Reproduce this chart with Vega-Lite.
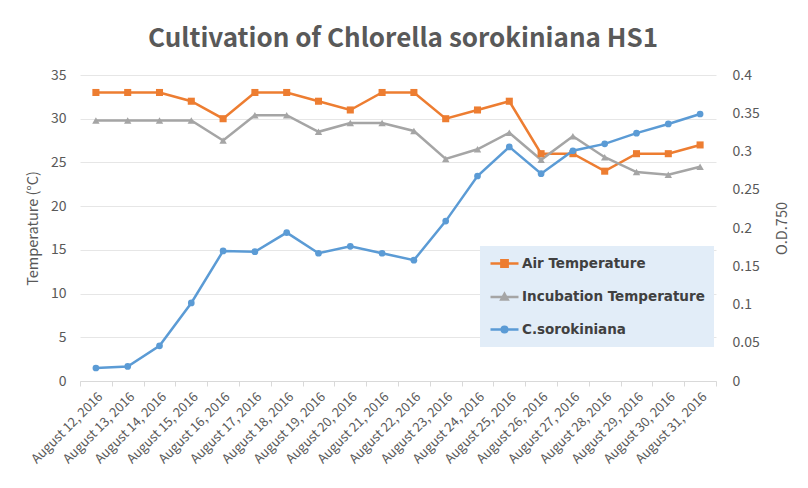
{
  "$schema": "https://vega.github.io/schema/vega-lite/v6.json",
  "width": 636,
  "height": 306,
  "autosize": {"type": "none"},
  "padding": {"left": 80, "top": 75, "right": 92, "bottom": 107},
  "background": "white",
  "config": {
    "view": {"stroke": null},
    "axis": {"labelFont": "Noto Sans CJK KR", "titleFont": "Noto Sans CJK KR", "labelColor": "#595959", "titleColor": "#595959", "titleFontWeight": "normal"}
  },
  "title": {
    "text": "Cultivation of Chlorella sorokiniana HS1",
    "font": "Noto Sans CJK KR",
    "fontSize": 26,
    "fontWeight": "bold",
    "color": "#595959",
    "anchor": "middle",
    "dx": 5,
    "offset": 16
  },
  "data": {
    "values": [
      {"date": "August 12, 2016", "series": "Air Temperature", "value": 33},
      {"date": "August 13, 2016", "series": "Air Temperature", "value": 33},
      {"date": "August 14, 2016", "series": "Air Temperature", "value": 33},
      {"date": "August 15, 2016", "series": "Air Temperature", "value": 32},
      {"date": "August 16, 2016", "series": "Air Temperature", "value": 30},
      {"date": "August 17, 2016", "series": "Air Temperature", "value": 33},
      {"date": "August 18, 2016", "series": "Air Temperature", "value": 33},
      {"date": "August 19, 2016", "series": "Air Temperature", "value": 32},
      {"date": "August 20, 2016", "series": "Air Temperature", "value": 31},
      {"date": "August 21, 2016", "series": "Air Temperature", "value": 33},
      {"date": "August 22, 2016", "series": "Air Temperature", "value": 33},
      {"date": "August 23, 2016", "series": "Air Temperature", "value": 30},
      {"date": "August 24, 2016", "series": "Air Temperature", "value": 31},
      {"date": "August 25, 2016", "series": "Air Temperature", "value": 32},
      {"date": "August 26, 2016", "series": "Air Temperature", "value": 26},
      {"date": "August 27, 2016", "series": "Air Temperature", "value": 26},
      {"date": "August 28, 2016", "series": "Air Temperature", "value": 24},
      {"date": "August 29, 2016", "series": "Air Temperature", "value": 26},
      {"date": "August 30, 2016", "series": "Air Temperature", "value": 26},
      {"date": "August 31, 2016", "series": "Air Temperature", "value": 27},
      {"date": "August 12, 2016", "series": "Incubation Temperature", "value": 29.8},
      {"date": "August 13, 2016", "series": "Incubation Temperature", "value": 29.8},
      {"date": "August 14, 2016", "series": "Incubation Temperature", "value": 29.8},
      {"date": "August 15, 2016", "series": "Incubation Temperature", "value": 29.8},
      {"date": "August 16, 2016", "series": "Incubation Temperature", "value": 27.5},
      {"date": "August 17, 2016", "series": "Incubation Temperature", "value": 30.4},
      {"date": "August 18, 2016", "series": "Incubation Temperature", "value": 30.4},
      {"date": "August 19, 2016", "series": "Incubation Temperature", "value": 28.5},
      {"date": "August 20, 2016", "series": "Incubation Temperature", "value": 29.5},
      {"date": "August 21, 2016", "series": "Incubation Temperature", "value": 29.5},
      {"date": "August 22, 2016", "series": "Incubation Temperature", "value": 28.6},
      {"date": "August 23, 2016", "series": "Incubation Temperature", "value": 25.4},
      {"date": "August 24, 2016", "series": "Incubation Temperature", "value": 26.5},
      {"date": "August 25, 2016", "series": "Incubation Temperature", "value": 28.4},
      {"date": "August 26, 2016", "series": "Incubation Temperature", "value": 25.3},
      {"date": "August 27, 2016", "series": "Incubation Temperature", "value": 28},
      {"date": "August 28, 2016", "series": "Incubation Temperature", "value": 25.6},
      {"date": "August 29, 2016", "series": "Incubation Temperature", "value": 23.9},
      {"date": "August 30, 2016", "series": "Incubation Temperature", "value": 23.6},
      {"date": "August 31, 2016", "series": "Incubation Temperature", "value": 24.5},
      {"date": "August 12, 2016", "series": "C.sorokiniana", "value": 0.017},
      {"date": "August 13, 2016", "series": "C.sorokiniana", "value": 0.019},
      {"date": "August 14, 2016", "series": "C.sorokiniana", "value": 0.046},
      {"date": "August 15, 2016", "series": "C.sorokiniana", "value": 0.102},
      {"date": "August 16, 2016", "series": "C.sorokiniana", "value": 0.170},
      {"date": "August 17, 2016", "series": "C.sorokiniana", "value": 0.169},
      {"date": "August 18, 2016", "series": "C.sorokiniana", "value": 0.194},
      {"date": "August 19, 2016", "series": "C.sorokiniana", "value": 0.167},
      {"date": "August 20, 2016", "series": "C.sorokiniana", "value": 0.176},
      {"date": "August 21, 2016", "series": "C.sorokiniana", "value": 0.167},
      {"date": "August 22, 2016", "series": "C.sorokiniana", "value": 0.158},
      {"date": "August 23, 2016", "series": "C.sorokiniana", "value": 0.209},
      {"date": "August 24, 2016", "series": "C.sorokiniana", "value": 0.268},
      {"date": "August 25, 2016", "series": "C.sorokiniana", "value": 0.306},
      {"date": "August 26, 2016", "series": "C.sorokiniana", "value": 0.271},
      {"date": "August 27, 2016", "series": "C.sorokiniana", "value": 0.301},
      {"date": "August 28, 2016", "series": "C.sorokiniana", "value": 0.310},
      {"date": "August 29, 2016", "series": "C.sorokiniana", "value": 0.324},
      {"date": "August 30, 2016", "series": "C.sorokiniana", "value": 0.336},
      {"date": "August 31, 2016", "series": "C.sorokiniana", "value": 0.349}
    ]
  },
  "encoding": {
    "x": {
      "field": "date",
      "type": "ordinal",
      "sort": null,
      "scale": {"type": "band", "paddingInner": 0, "paddingOuter": 0},
      "axis": {
        "title": null,
        "labelAngle": -45,
        "labelFontSize": 13,
        "labelPadding": 4,
        "tickBand": "extent",
        "tickColor": "#D9D9D9",
        "tickSize": 5,
        "domainColor": "#D9D9D9",
        "grid": false
      }
    },
    "color": {
      "field": "series",
      "type": "nominal",
      "scale": {"domain": ["Air Temperature", "Incubation Temperature", "C.sorokiniana"], "range": ["#ED7D31", "#A5A5A5", "#5B9BD5"]},
      "legend": {
        "title": null,
        "orient": "none",
        "legendX": 400,
        "legendY": 171,
        "fillColor": "#E2EDF8",
        "padding": 9,
        "symbolSize": 196,
        "labelOffset": 16,
        "labelLimit": 400,
        "rowPadding": 16.5,
        "labelFont": "DejaVu Sans",
        "labelFontSize": 13.5,
        "labelFontWeight": "bold",
        "labelColor": "#404040",
        "encode": {
          "symbols": {
            "update": {
              "shape": {"signal": "datum.value === 'Air Temperature' ? 'M-1,0H3M0.55,-0.45H1.45V0.45H0.55Z' : datum.value === 'Incubation Temperature' ? 'M-1,0H3M1,-0.45L1.45,0.35H0.55Z' : 'M-1,0H3M1.4,0A0.4,0.4 0 1,1 0.6,0A0.4,0.4 0 1,1 1.4,0Z'"},
              "stroke": {"scale": "color", "field": "value"},
              "fill": {"scale": "color", "field": "value"},
              "strokeWidth": {"value": 2.5},
              "opacity": {"value": 1}
            }
          }
        }
      }
    }
  },
  "layer": [
    {
      "transform": [{"filter": "datum.series !== 'C.sorokiniana'"}],
      "encoding": {
        "y": {
          "field": "value",
          "type": "quantitative",
          "scale": {"domain": [0, 35], "nice": false, "zero": true},
          "axis": {
            "title": "Temperature (°C)",
            "titleFontSize": 14.5,
            "titlePadding": 10,
            "values": [0, 5, 10, 15, 20, 25, 30, 35],
            "labelFontSize": 14,
            "labelPadding": 14,
            "ticks": false,
            "domain": false,
            "gridColor": "#E6E6E6"
          }
        }
      },
      "layer": [
        {"mark": {"type": "line", "strokeWidth": 2.5}},
        {
          "transform": [{"filter": "datum.series === 'Air Temperature'"}],
          "mark": {"type": "point", "filled": true, "opacity": 1, "size": 50, "shape": "square"}
        },
        {
          "transform": [{"filter": "datum.series === 'Incubation Temperature'"}],
          "mark": {"type": "point", "filled": true, "opacity": 1, "size": 55, "shape": "triangle-up"}
        }
      ]
    },
    {
      "transform": [{"filter": "datum.series === 'C.sorokiniana'"}],
      "encoding": {
        "y": {
          "field": "value",
          "type": "quantitative",
          "scale": {"domain": [0, 0.4], "nice": false, "zero": true},
          "axis": {
            "orient": "right",
            "title": "O.D.750",
            "titleAngle": -90,
            "titleFontSize": 14.5,
            "titlePadding": 30,
            "values": [0, 0.05, 0.1, 0.15, 0.2, 0.25, 0.3, 0.35, 0.4],
            "format": "~g",
            "labelFontSize": 14,
            "labelPadding": 16,
            "ticks": false,
            "domain": false,
            "grid": false
          }
        }
      },
      "layer": [
        {"mark": {"type": "line", "strokeWidth": 2.5}},
        {"mark": {"type": "point", "filled": true, "opacity": 1, "size": 45, "shape": "circle"}}
      ]
    }
  ],
  "resolve": {"scale": {"y": "independent"}}
}
